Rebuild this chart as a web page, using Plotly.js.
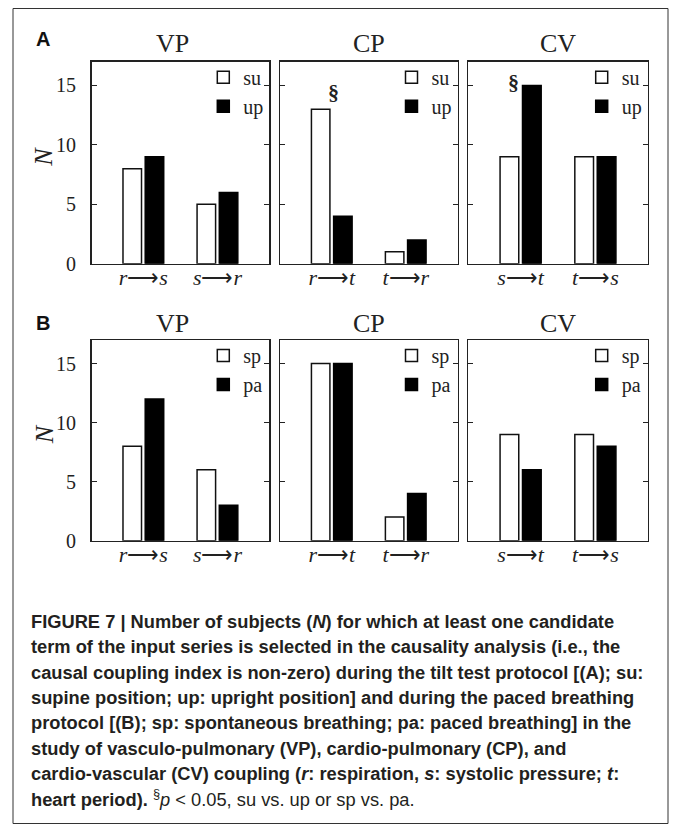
<!DOCTYPE html>
<html><head><meta charset="utf-8">
<script src="https://cdn.plot.ly/plotly-3.0.1.min.js"></script>
<style>html,body{margin:0;padding:0;background:#fff}#chart{width:673px;height:825px}</style>
</head><body><div id="chart"></div>
<script>
// ---------------- data ----------------
const couplings = ['VP', 'CP', 'CV'];
const catVP = ['r→s', 's→r'];
const catCP = ['r→t', 't→r'];
const catCV = ['s→t', 't→s'];
const tiltNames = ['su', 'up'];
const breathNames = ['sp', 'pa'];
// Panel A: tilt test
const suVP = [8, 5];
const upVP = [9, 6];
const suCP = [13, 1];
const upCP = [4, 2];
const suCV = [9, 9];
const upCV = [15, 9];
// Panel B: paced breathing
const spVP = [8, 6];
const paVP = [12, 3];
const spCP = [15, 2];
const paCP = [15, 4];
const spCV = [9, 9];
const paCV = [6, 8];
const yTicks = [0, 5, 10, 15];
// significance marks (panel A)
const sigCP = 'r→t';
const sigCV = 's→t';
const captionLines = [
  '<b>FIGURE 7 | Number of subjects (<i>N</i>) for which at least one candidate</b>',
  '<b>term of the input series is selected in the causality analysis (i.e., the</b>',
  '<b>causal coupling index is non-zero) during the tilt test protocol [(A); su:</b>',
  '<b>supine position; up: upright position] and during the paced breathing</b>',
  '<b>protocol [(B); sp: spontaneous breathing; pa: paced breathing] in the</b>',
  '<b>study of vasculo-pulmonary (VP), cardio-pulmonary (CP), and</b>',
  '<b>cardio-vascular (CV) coupling (<i>r</i>: respiration, <i>s</i>: systolic pressure; <i>t</i>:</b>',
  '<b>heart period).</b> <sup>§</sup><i>p</i> &lt; 0.05, su vs. up or sp vs. pa.'
];

// ---------------- layout helpers ----------------
const W = 673, H = 825;
const px = v => v / W;
const py = v => 1 - v / H;
const xDom = [[91.5, 269.3], [280, 457.5], [468.3, 647.7]];
const yDom = [[61.7, 263.7], [340, 540.7]];
const serif = 'Liberation Serif, Times New Roman, serif';
const ink = '#222';

const panels = [
  {cats: catVP, a: suVP, b: upVP, names: tiltNames, row: 0, col: 0},
  {cats: catCP, a: suCP, b: upCP, names: tiltNames, row: 0, col: 1},
  {cats: catCV, a: suCV, b: upCV, names: tiltNames, row: 0, col: 2},
  {cats: catVP, a: spVP, b: paVP, names: breathNames, row: 1, col: 0},
  {cats: catCP, a: spCP, b: paCP, names: breathNames, row: 1, col: 1},
  {cats: catCV, a: spCV, b: paCV, names: breathNames, row: 1, col: 2}
];

const fmtCat = c => { const p = c.split('→'); return '<i>' + p[0] + '</i>⟶<i>' + p[1] + '</i>'; };

const traces = [];
const layout = {
  width: W, height: H,
  margin: {l: 0, r: 0, t: 0, b: 0},
  paper_bgcolor: '#fff', plot_bgcolor: '#fff',
  barmode: 'overlay',
  font: {family: serif, color: ink},
  annotations: [], shapes: []
};

panels.forEach((p, i) => {
  const n = i + 1;
  const sfx = n === 1 ? '' : String(n);
  const xa = 'x' + sfx, ya = 'y' + sfx;
  const lg = 'legend' + sfx;
  traces.push({
    type: 'bar', x: p.cats, y: p.a, name: p.names[0], xaxis: xa, yaxis: ya, legend: lg,
    width: 0.25, offset: -0.275,
    marker: {color: '#fff', line: {color: '#111', width: 1.5}}, hoverinfo: 'skip'
  });
  traces.push({
    type: 'bar', x: p.cats, y: p.b, name: p.names[1], xaxis: xa, yaxis: ya, legend: lg,
    width: 0.25, offset: 0.025,
    marker: {color: '#000', line: {color: '#000', width: 1.5}}, hoverinfo: 'skip'
  });
  const xd = xDom[p.col], yd = yDom[p.row];
  layout['xaxis' + sfx] = {
    domain: [px(xd[0]), px(xd[1])], anchor: ya, type: 'category',
    range: [-0.7, 1.7], showline: true, mirror: true, linecolor: ink, linewidth: 1.4,
    ticks: '', tickvals: p.cats, ticktext: p.cats.map(fmtCat),
    tickfont: {family: serif, size: 22, color: ink}, ticklabelstandoff: -7,
    showgrid: false, zeroline: false, fixedrange: true
  };
  layout['yaxis' + sfx] = {
    domain: [py(yd[1]), py(yd[0])], anchor: xa, range: [0, 17],
    showline: true, mirror: 'ticks', linecolor: ink, linewidth: 1.4,
    ticks: 'inside', ticklen: 5, tickwidth: 1, tickcolor: ink,
    tickmode: 'array', tickvals: yTicks, showticklabels: p.col === 0,
    tickfont: {family: serif, size: 20, color: ink}, ticklabelstandoff: 10,
    showgrid: false, zeroline: false, fixedrange: true
  };
  layout[lg] = {
    x: px(xd[1] - 66), xanchor: 'left', xref: 'paper',
    y: py(yd[0] - 4), yanchor: 'top', yref: 'paper',
    bgcolor: 'rgba(0,0,0,0)', borderwidth: 0,
    font: {family: serif, size: 20, color: ink}, tracegroupgap: 0
  };
  // panel titles
  layout.annotations.push({
    xref: 'paper', yref: 'paper', x: px((xd[0] + xd[1]) / 2 + (p.col === 0 ? -8 : 0)),
    y: py(p.row === 0 ? 43 : 323), xanchor: 'center', yanchor: 'middle',
    text: couplings[p.col], showarrow: false, font: {family: serif, size: 26, color: ink}
  });
  // y-axis label N on the first panel of each row
  if (p.col === 0) {
    layout.annotations.push({
      xref: 'paper', yref: 'paper', x: px(44), y: py((yd[0] + yd[1]) / 2 - 6),
      xanchor: 'center', yanchor: 'middle', textangle: -90,
      text: '<i>N</i>', showarrow: false, font: {family: serif, size: 26, color: ink}
    });
  }
});

// significance marks
layout.annotations.push({
  xref: 'x2', yref: 'y2', x: sigCP, y: Math.max(suCP[catCP.indexOf(sigCP)], upCP[catCP.indexOf(sigCP)]),
  xshift: 2, yshift: 2, yanchor: 'bottom', text: '<b>§</b>', showarrow: false,
  font: {family: serif, size: 22, color: ink}
});
layout.annotations.push({
  xref: 'x3', yref: 'y3', x: sigCV, y: Math.max(suCV[catCV.indexOf(sigCV)], upCV[catCV.indexOf(sigCV)]),
  xshift: -7, yshift: 3, yanchor: 'middle', text: '<b>§</b>', showarrow: false,
  font: {family: serif, size: 22, color: ink}
});

// panel letters
[['A', 39], ['B', 323]].forEach(([t, y]) => layout.annotations.push({
  xref: 'paper', yref: 'paper', x: px(43), y: py(y), xanchor: 'center', yanchor: 'middle',
  text: '<b>' + t + '</b>', showarrow: false,
  font: {family: 'Liberation Sans, Arial, sans-serif', size: 20, color: '#111'}
}));

// caption
const capY = [621, 646.5, 672, 697, 722.5, 748, 773, 798];
captionLines.forEach((t, i) => layout.annotations.push({
  xref: 'paper', yref: 'paper', x: px(29), y: py(capY[i]), xanchor: 'left', yanchor: 'middle',
  text: t, showarrow: false, align: 'left',
  font: {family: 'Liberation Sans, Arial, sans-serif', size: 18.3, color: '#231f20'}
}));

// figure frame
layout.shapes.push({
  type: 'rect', xref: 'paper', yref: 'paper', x0: px(13), x1: px(668), y0: py(823.5), y1: py(8.5),
  line: {color: '#333', width: 1}, fillcolor: 'rgba(0,0,0,0)'
});

Plotly.newPlot('chart', traces, layout, {displayModeBar: false, staticPlot: true});
</script>
</body></html>
